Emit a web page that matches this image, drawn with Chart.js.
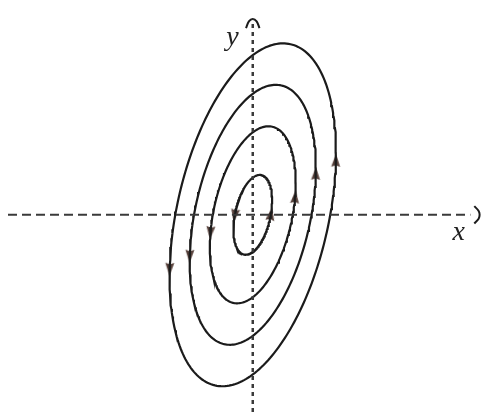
<!DOCTYPE html>
<html>
<head>
<meta charset="utf-8">
<script src="https://cdn.jsdelivr.net/npm/chart.js@4"></script>
<style>
  html, body { margin: 0; padding: 0; background: #fff; }
  #phase { display: block; }
</style>
</head>
<body>
<canvas id="phase" width="491" height="420"></canvas>
<script>
// orbit levels of the centre (one closed trajectory each), inner to outer
const levels = [1.0, 2.22, 3.26, 4.3];
// orbit shape per unit level: x = a cos t, y = b cos t + c sin t
const shapeA = 2.0;
const shapeB = 1.51;
const shapeC = 3.86;
// parameter (degrees) of the upward arrow on each orbit; the downward one sits opposite
const arrowAngles = [-21, -10, -3, -3];
// axis extents
const xAxisRange = [-25.3, 22.5];
const yAxisRange = [-20.5, 20.3];
const axisLabels = ["x", "y"];

const rad = (d) => (d * Math.PI) / 180;

function orbitPoint(level, t) {
    return {
        x: level * shapeA * Math.cos(t),
        y: level * (shapeB * Math.cos(t) + shapeC * Math.sin(t)),
    };
}

function orbit(level) {
    const pts = [];
    for (let i = 0; i <= 240; i++) {
        pts.push(orbitPoint(level, (i / 240) * 2 * Math.PI));
    }
    return pts;
}

// heading of the flow at t, as a canvas rotation (0 = pointing up)
function heading(t) {
    const dx = -shapeA * Math.sin(t);
    const dy = -shapeB * Math.sin(t) + shapeC * Math.cos(t);
    return (Math.atan2(dx, dy) * 180) / Math.PI;
}

const arrowPts = [];
const arrowRot = [];
levels.forEach((lv, i) => {
    const t = rad(arrowAngles[i]);
    arrowPts.push(orbitPoint(lv, t));
    arrowRot.push(heading(t));
    arrowPts.push(orbitPoint(lv, t + Math.PI));
    arrowRot.push(heading(t + Math.PI));
});

// arrowhead used as point style
const head = document.createElement("canvas");
head.width = 12;
head.height = 16;
{
    const g = head.getContext("2d");
    g.fillStyle = "#56403a";
    g.beginPath();
    g.moveTo(6, 1);
    g.lineTo(10.5, 14);
    g.lineTo(6, 12.5);
    g.lineTo(1.5, 14);
    g.closePath();
    g.fill();
}

const ink = "#1b1b1b";

const datasets = [
    {
        data: [{ x: xAxisRange[0], y: 0 }, { x: xAxisRange[1], y: 0 }],
        borderColor: "#3a3a3a",
        borderWidth: 2,
        borderDash: [9, 5],
        pointRadius: 0,
        showLine: true,
    },
    {
        data: [{ x: 0, y: yAxisRange[0] }, { x: 0, y: yAxisRange[1] }],
        borderColor: "#3a3a3a",
        borderWidth: 2.5,
        borderDash: [4, 4],
        pointRadius: 0,
        showLine: true,
    },
    // arrow tip on the y axis
    {
        data: [{ x: -0.7, y: 19.4 }, { x: -0.4, y: 20.1 }, { x: 0, y: 20.35 }, { x: 0.4, y: 20.1 }, { x: 0.7, y: 19.4 }],
        borderColor: ink,
        borderWidth: 2,
        pointRadius: 0,
        showLine: true,
        tension: 0.4,
    },
    // arrow tip on the x axis
    {
        data: [{ x: 22.9, y: 0.9 }, { x: 23.35, y: 0.4 }, { x: 23.45, y: 0 }, { x: 23.35, y: -0.4 }, { x: 22.9, y: -0.9 }],
        borderColor: ink,
        borderWidth: 2,
        pointRadius: 0,
        showLine: true,
        tension: 0.4,
    },
];

levels.forEach((lv) => {
    datasets.push({
        data: orbit(lv),
        borderColor: ink,
        borderWidth: 2.2,
        pointRadius: 0,
        showLine: true,
    });
});

datasets.push({
    data: arrowPts,
    pointStyle: head,
    pointRadius: 7,
    pointRotation: arrowRot,
    showLine: false,
});

const axisText = {
    id: "axisText",
    afterDraw(chart) {
        const { ctx, scales } = chart;
        ctx.save();
        ctx.fillStyle = "#222";
        ctx.font = 'italic 28px "Liberation Serif", "DejaVu Serif", serif';
        ctx.textAlign = "center";
        ctx.textBaseline = "middle";
        ctx.fillText(axisLabels[0], scales.x.getPixelForValue(21.3), scales.y.getPixelForValue(-1.9));
        ctx.fillText(axisLabels[1], scales.x.getPixelForValue(-2.1), scales.y.getPixelForValue(18.4));
        ctx.restore();
    },
};

new Chart(document.getElementById("phase"), {
    type: "scatter",
    data: { datasets },
    options: {
        responsive: false,
        animation: false,
        layout: { padding: 0 },
        plugins: {
            legend: { display: false },
            tooltip: { enabled: false },
        },
        scales: {
            x: { type: "linear", min: -25.3, max: 23.8, display: false },
            y: { type: "linear", min: -20.5, max: 21.5, display: false },
        },
    },
    plugins: [axisText],
});
</script>
</body>
</html>
